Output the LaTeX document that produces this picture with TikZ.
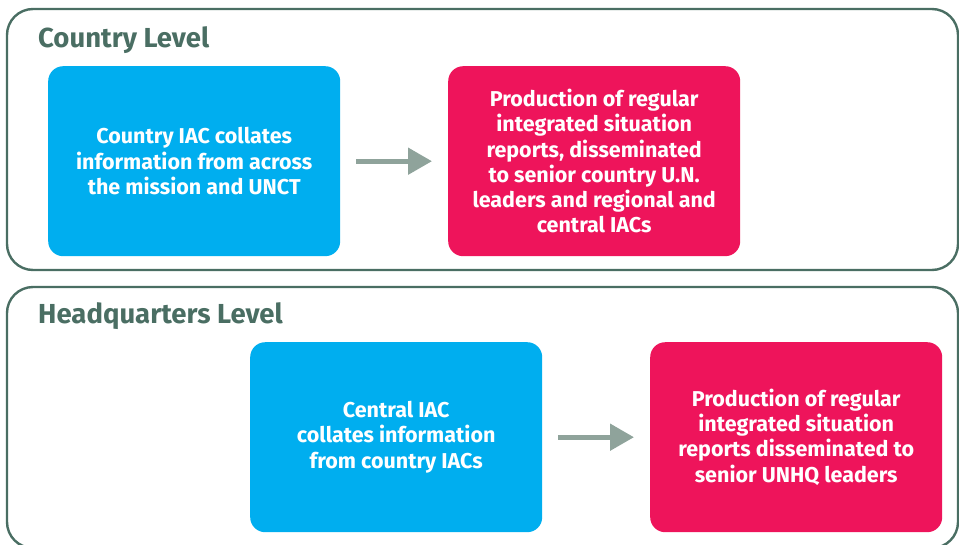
\documentclass[tikz,border=0pt]{standalone}
\usepackage{fontspec}
\setmainfont{Fira Sans}
\usetikzlibrary{arrows.meta}
\definecolor{frameg}{HTML}{4A6E63}
\definecolor{bblue}{HTML}{00AEEF}
\definecolor{bred}{HTML}{EE145B}
\definecolor{arrg}{HTML}{8FA39B}
\tikzset{
  frame/.style={draw=frameg, line width=2.4pt, rounded corners=26pt},
  bluebox/.style={fill=bblue, rounded corners=15pt, minimum width=292pt, minimum height=190pt, anchor=north west, text=white, font=\bfseries\fontsize{21.5}{25.3}\selectfont, align=center, inner sep=0pt},
  redbox/.style={bluebox, fill=bred},
  title/.style={text=frameg, font=\bfseries\fontsize{27.5}{30}\selectfont, anchor=base west, inner sep=0pt},
  flow/.style={draw=arrg, line width=5pt, -{Triangle[length=24pt,width=26pt]}, shorten <=16pt, shorten >=16pt}
}
\begin{document}
\begin{tikzpicture}[x=1pt,y=-1pt]
\useasboundingbox (0,0) rectangle (959,544);
\clip (0,0) rectangle (959,544);
\draw[frame] (7,9) rectangle (958,270);
\draw[frame] (7,287) rectangle (958,548);
\node[title] (t1) at (38,47) {Country Level};
\node[title] (t2) at (38,323) {Headquarters Level};
\node[bluebox] (b1) at (48,66) {Country IAC collates\\information from across\\the mission and UNCT};
\node[redbox] (r1) at (448,66) {Production of regular\\integrated situation\\reports, disseminated\\to senior country U.N.\\leaders and regional and\\central IACs};
\node[bluebox] (b2) at (250,342) {Central IAC\\collates information\\from country IACs};
\node[redbox] (r2) at (650,342) {Production of regular\\integrated situation\\reports disseminated to\\senior UNHQ leaders};
\draw[flow] (b1.east) -- (r1.west);
\draw[flow] (b2.east) -- (r2.west);
\end{tikzpicture}
\end{document}
